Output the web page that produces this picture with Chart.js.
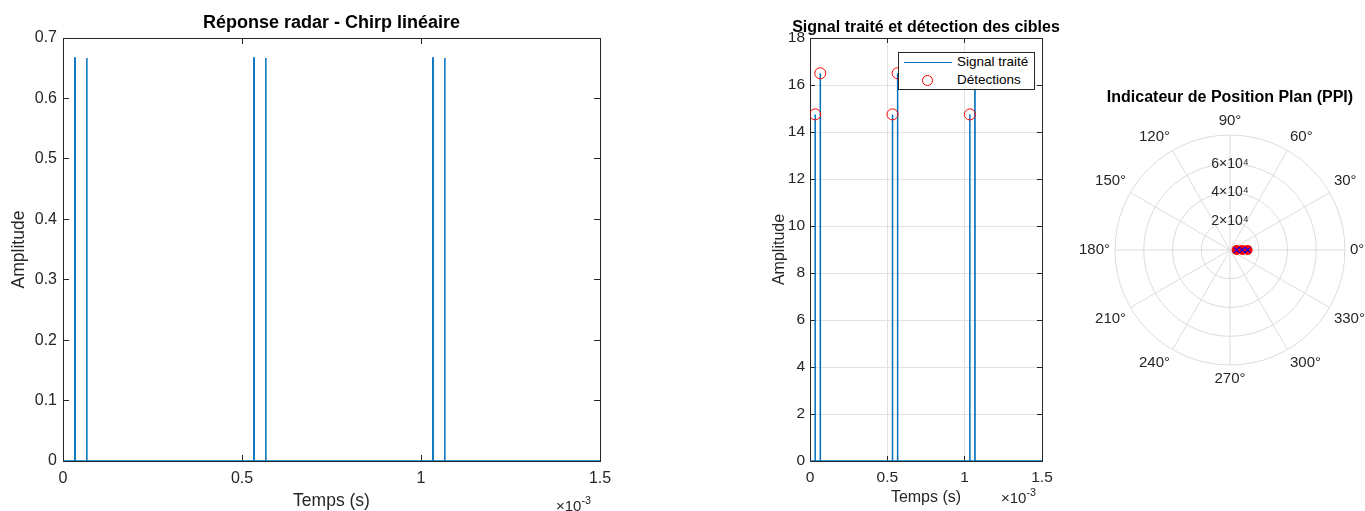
<!DOCTYPE html>
<html><head><meta charset="utf-8">
<script src="https://cdn.jsdelivr.net/npm/chart.js@4.4.1/dist/chart.umd.min.js"></script>
<style>
html,body{margin:0;padding:0;background:#fff;width:1365px;height:511px;overflow:hidden;font-family:"Liberation Sans",Arial,sans-serif;position:relative;}
canvas{position:absolute;}
.exp{position:absolute;color:#262626;white-space:nowrap;}
.exp sup{font-size:0.72em;position:relative;top:-0.1em;}
#legend{position:absolute;left:898px;top:52px;width:137px;height:38px;border:1px solid #262626;background:#fff;box-sizing:border-box;font-size:13.5px;color:#000;}
#legend span{position:absolute;white-space:nowrap;}
</style></head><body>
<canvas id="c1" width="663" height="511" style="left:0;top:0"></canvas>
<canvas id="c2" width="312" height="511" style="left:770px;top:0"></canvas>
<canvas id="c3" width="380" height="318" style="left:1040px;top:70px"></canvas>
<div class="exp" style="left:556px;top:495px;font-size:15px">×10<sup>-3</sup></div>
<div class="exp" style="left:1001px;top:487px;font-size:15px">×10<sup>-3</sup></div>
<div id="legend">
  <div style="position:absolute;left:5px;top:9px;width:48px;height:0;border-top:1.5px solid #0072BD"></div>
  <span style="left:58px;top:1px">Signal traité</span>
  <div style="position:absolute;left:23px;top:22px;width:11px;height:11px;border:1px solid #ff0000;border-radius:50%;box-sizing:border-box"></div>
  <span style="left:58px;top:19px">Détections</span>
</div>
<script>
// ---------- data ----------
const chirpTime = [0, 3.3e-5, 3.3e-5, 3.4e-5, 3.4e-5, 6.6e-5, 6.6e-5, 6.7e-5, 6.7e-5,
  5.33e-4, 5.33e-4, 5.34e-4, 5.34e-4, 5.66e-4, 5.66e-4, 5.67e-4, 5.67e-4,
  1.033e-3, 1.033e-3, 1.034e-3, 1.034e-3, 1.066e-3, 1.066e-3, 1.067e-3, 1.067e-3, 1.5e-3];
const chirpAmp = [0, 0, 0.667, 0.667, 0, 0, 0.667, 0.667, 0,
  0, 0.667, 0.667, 0, 0, 0.667, 0.667, 0,
  0, 0.667, 0.667, 0, 0, 0.667, 0.667, 0, 0];

const procTime = [0, 3.3e-5, 3.3e-5, 3.4e-5, 3.4e-5, 6.6e-5, 6.6e-5, 6.7e-5, 6.7e-5,
  5.33e-4, 5.33e-4, 5.34e-4, 5.34e-4, 5.66e-4, 5.66e-4, 5.67e-4, 5.67e-4,
  1.033e-3, 1.033e-3, 1.034e-3, 1.034e-3, 1.066e-3, 1.066e-3, 1.067e-3, 1.067e-3, 1.5e-3];
const procAmp = [0, 0, 14.75, 14.75, 0, 0, 16.5, 16.5, 0,
  0, 14.75, 14.75, 0, 0, 16.5, 16.5, 0,
  0, 14.75, 14.75, 0, 0, 16.5, 16.5, 0, 0];

const detTime = [3.35e-5, 6.65e-5, 5.335e-4, 5.665e-4, 1.0335e-3, 1.0665e-3];
const detAmp = [14.75, 16.5, 14.75, 16.5, 14.75, 16.5];

const ppiAngleLabels = ['90°','60°','30°','0°','330°','300°','270°','240°','210°','180°','150°','120°'];
const ppiTargetAngle = ['0°','0°','0°'];
const ppiTargetRange = [4600, 8500, 12200];
const ppiRangeMax = 80000;
const ppiRangeStep = 20000;

const timeTickStep = 5e-4;

// ---------- styles ----------
Chart.defaults.font.family = '"Liberation Sans", Arial, Helvetica, sans-serif';
Chart.defaults.color = '#262626';
const AX = '#262626';
const BLUE = '#0072BD';

function msLabel(v){ const ms = Math.round(v*1e4)/10; return ms === 0 ? '0' : String(ms); }
function fixH(h){ return s => { s.height = h; }; }
function fixW(w){ return s => { s.width = w; }; }
const toXY = (xs, ys) => xs.map((x,i) => ({x, y: ys[i]}));

function boxAxes(cfg){
  const tl = cfg.gridColor ? -5 : -6;
  const grid = cfg.gridColor
    ? {display:true, drawOnChartArea:true, color:cfg.gridColor, drawTicks:true, tickLength:tl, tickColor:AX, tickWidth:1}
    : {display:true, drawOnChartArea:false, drawTicks:true, tickLength:tl, tickColor:AX, tickWidth:1};
  const innerGrid = {display:true, drawOnChartArea:false, drawTicks:true, tickLength:tl, tickColor:AX, tickWidth:1, color:AX};
  return {
    x: {type:'linear', position:'bottom', min:0, max:cfg.xmax,
        ticks:{stepSize:timeTickStep, callback:msLabel, color:AX, font:{size:cfg.tickFont}, padding:cfg.xPad, maxRotation:0, autoSkip:false},
        grid:grid, border:{display:true, color:AX, width:1},
        title:{display:true, text:'Temps (s)', color:AX, font:{size:cfg.titleFont}, padding:{top:0, bottom:cfg.xTitlePad}},
        afterFit: fixH(cfg.xH)},
    x2: {type:'linear', position:'top', min:0, max:cfg.xmax,
        ticks:{stepSize:timeTickStep, display:false},
        grid:innerGrid, border:{display:true, color:AX, width:1}, afterFit: fixH(0)},
    y: {type:'linear', position:'left', min:0, max:cfg.ymax,
        ticks:{stepSize:cfg.ystep, callback:cfg.yfmt, color:AX, font:{size:cfg.tickFont}, padding:cfg.yPad, autoSkip:false},
        grid:grid, border:{display:true, color:AX, width:1},
        title:{display:true, text:'Amplitude', color:AX, font:{size:cfg.titleFont}, padding:{top:cfg.yTitlePad, bottom:0}},
        afterFit: fixW(cfg.yW)},
    y2: {type:'linear', position:'right', min:0, max:cfg.ymax,
        ticks:{stepSize:cfg.ystep, display:false},
        grid:innerGrid, border:{display:true, color:AX, width:1}, afterFit: fixW(cfg.rightW)}
  };
}

// ---------- chart 1 ----------
new Chart(document.getElementById('c1'), {
  type:'line',
  data:{datasets:[{label:'Chirp', data:toXY(chirpTime, chirpAmp), borderColor:BLUE, borderWidth:1.5,
    pointRadius:0, tension:0, fill:false}]},
  options:{
    responsive:false, animation:false,
    layout:{padding:0},
    plugins:{legend:{display:false}, tooltip:{enabled:false},
      title:{display:true, text:'Réponse radar - Chirp linéaire', color:'#000', font:{size:18, weight:'bold'}, padding:{top:12, bottom:4.4}}},
    scales: boxAxes({xmax:1.5e-3, ymax:0.7, ystep:0.1, yfmt:v => v===0 ? '0' : v.toFixed(1),
      tickFont:16, titleFont:17.5, yW:63, xH:50, rightW:63, yPad:12, xPad:13.5, gridColor:null, yTitlePad:8.5, xTitlePad:-0.5})
  }
});

// ---------- chart 2 ----------
new Chart(document.getElementById('c2'), {
  type:'line',
  data:{datasets:[
    {label:'Détections', data:toXY(detTime, detAmp), showLine:false, pointStyle:'circle', pointRadius:5.5,
      pointBorderColor:'#ff0000', pointBackgroundColor:'rgba(0,0,0,0)', pointBorderWidth:1},
    {label:'Signal traité', data:toXY(procTime, procAmp), borderColor:BLUE, borderWidth:1.5,
      pointRadius:0, tension:0, fill:false}
  ]},
  options:{
    responsive:false, animation:false,
    layout:{padding:0},
    plugins:{legend:{display:false}, tooltip:{enabled:false},
      title:{display:true, text:'Signal traité et détection des cibles', color:'#000', font:{size:16, weight:'bold'}, padding:{top:18, bottom:0.8}}},
    scales: boxAxes({xmax:1.5e-3, ymax:18, ystep:2, yfmt:v => String(v),
      tickFont:15.5, titleFont:16, yW:40, xH:50, rightW:40, yPad:10, xPad:12.5, gridColor:'#e2e2e2', yTitlePad:0, xTitlePad:3.5})
  }
});

// ---------- chart 3 (PPI) ----------
const ppiSets = [];
ppiTargetRange.forEach((r, i) => {
  const idx = ppiAngleLabels.indexOf(ppiTargetAngle[i]);
  ppiSets.push({label:'x'+i, data:ppiAngleLabels.map((_, k) => k === idx ? r : null),
    pointStyle:'crossRot', pointRadius:4, pointBorderColor:'#0000ff', pointBorderWidth:1.2,
    pointBackgroundColor:'#0000ff', showLine:false, borderWidth:0, fill:false});
});
ppiTargetRange.forEach((r, i) => {
  const idx = ppiAngleLabels.indexOf(ppiTargetAngle[i]);
  ppiSets.push({label:'o'+i, data:ppiAngleLabels.map((_, k) => k === idx ? r : null),
    pointStyle:'circle', pointRadius:5, pointBorderColor:'#ff0000', pointBorderWidth:0,
    pointBackgroundColor:'#ff0000', showLine:false, borderWidth:0, fill:false});
});

new Chart(document.getElementById('c3'), {
  type:'radar',
  data:{labels:ppiAngleLabels, datasets:ppiSets},
  options:{
    responsive:false, animation:false,
    layout:{padding:0},
    plugins:{legend:{display:false}, tooltip:{enabled:false},
      title:{display:true, text:'Indicateur de Position Plan (PPI)', color:'#000', font:{size:16, weight:'bold'}, padding:{top:18.4, bottom:4.4}}},
    scales:{
      r:{min:0, max:ppiRangeMax, startAngle:0,
        ticks:{stepSize:ppiRangeStep, showLabelBackdrop:false, color:AX, font:{size:14},
          callback:v => (v === 0 || v === ppiRangeMax) ? '' : (v/10000) + '×10⁴'},
        grid:{circular:true, color:'#dcdcdc', lineWidth:1},
        angleLines:{display:true, color:'#dcdcdc', lineWidth:1},
        pointLabels:{color:AX, font:{size:15}, padding:-4}
      }
    }
  }
});
</script>
</body></html>
